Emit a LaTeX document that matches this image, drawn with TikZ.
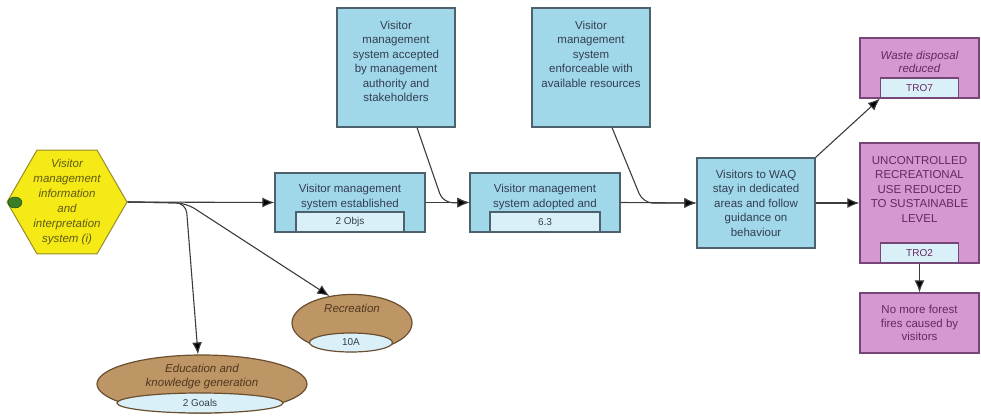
\documentclass[tikz,border=0pt]{standalone}
\usepackage{fontspec}
\setmainfont{Liberation Sans}
\usetikzlibrary{shapes.geometric,arrows.meta}

\definecolor{boxblue}{RGB}{160,216,234}
\definecolor{subblue}{RGB}{218,240,248}
\definecolor{edgeblue}{RGB}{78,98,110}
\definecolor{txtblue}{RGB}{50,62,80}
\definecolor{boxpink}{RGB}{214,152,208}
\definecolor{edgepink}{RGB}{118,70,118}
\definecolor{txtpink}{RGB}{100,40,100}
\definecolor{hexyellow}{RGB}{245,234,22}
\definecolor{edgeyellow}{RGB}{150,140,40}
\definecolor{txtyellow}{RGB}{95,90,20}
\definecolor{goalbrown}{RGB}{190,150,102}
\definecolor{edgebrown}{RGB}{105,78,48}
\definecolor{txtbrown}{RGB}{80,55,30}
\definecolor{dotgreen}{RGB}{60,125,40}
\definecolor{linkgray}{RGB}{60,60,60}

% empty depth below the last text line, pushes the text up
\newcommand{\textpad}[1]{\rule[-#1]{0pt}{#1}}

\begin{document}
\begin{tikzpicture}[x=1pt,y=-1pt,font=\fontsize{11.5}{14.5}\selectfont]
    \tikzstyle{box}=[draw=edgeblue,fill=boxblue,text=txtblue,line width=1.2pt,align=center,inner sep=1pt]
    \tikzstyle{pinkbox}=[draw=edgepink,fill=boxpink,text=txtpink,line width=1.2pt,align=center,inner sep=1pt]
    \tikzstyle{subbox}=[draw=edgeblue,fill=subblue,text=txtblue,line width=1.2pt,minimum height=20pt,inner sep=0pt,anchor=south,font=\fontsize{10}{12}\selectfont]
    \tikzstyle{subpink}=[subbox,draw=edgepink,text=txtpink]
    \tikzstyle{hexa}=[regular polygon,regular polygon sides=6,minimum size=120pt,inner sep=0pt,draw=edgeyellow,fill=hexyellow,line width=1pt]
    \tikzstyle{hextext}=[align=center,text=txtyellow,font=\fontsize{11.5}{15}\selectfont\itshape]
    \tikzstyle{goal}=[ellipse,draw=edgebrown,fill=goalbrown,line width=1.2pt,inner sep=0pt]
    \tikzstyle{subgoal}=[ellipse,draw=edgebrown,fill=subblue,text=txtblue,line width=1.2pt,inner sep=0pt,font=\fontsize{10}{12}\selectfont]
    \tikzstyle{goaltext}=[align=center,text=txtbrown,font=\fontsize{11.5}{13.5}\selectfont\itshape]
    \tikzstyle{link}=[-{Latex[length=12pt,width=10pt,fill=black]},draw=linkgray,line width=1.1pt]

    \useasboundingbox (0,0) rectangle (981,415);

    % factor
    \node[hexa] (vmis) at (67,202) {};
    \node[hextext] (vmistxt) at (vmis.center) {Visitor\\management\\information\\and\\interpretation\\system (i)};
    \node[ellipse,draw=black!70!green,fill=dotgreen,minimum width=14pt,minimum height=11pt,inner sep=0pt] (vmisdot) at (15,202.5) {};

    % strategy chain
    \node[box,minimum width=150pt,minimum height=59pt] (est) at (350,202.5) {Visitor management\\system established\textpad{13pt}};
    \node[subbox,minimum width=108pt] (estobj) at (est.south) {2 Objs};
    \node[box,minimum width=150pt,minimum height=59pt] (adopt) at (545,202.5) {Visitor management\\system adopted and\textpad{13pt}};
    \node[subbox,minimum width=110pt] (adoptobj) at (adopt.south) {6.3};
    \node[box,minimum width=118pt,minimum height=119pt] (acc) at (396,67.5) {Visitor\\management\\system accepted\\by management\\authority and\\stakeholders\textpad{12pt}};
    \node[box,minimum width=118pt,minimum height=119pt] (enf) at (591,67.5) {Visitor\\management\\system\\enforceable with\\available resources\textpad{27pt}};
    \node[box,minimum width=118pt,minimum height=90pt] (wrap) at (756,203) {Visitors to WAQ\\stay in dedicated\\areas and follow\\guidance on\\behaviour};

    % results
    \node[pinkbox,minimum width=119pt,minimum height=60pt,font=\fontsize{11.5}{13}\selectfont\itshape] (waste) at (919.5,68) {Waste disposal\\reduced\textpad{13pt}};
    \node[subpink,minimum width=78pt] (wastesub) at (waste.south) {TRO7};
    \node[pinkbox,minimum width=119pt,minimum height=120pt] (uncon) at (919.5,203) {UNCONTROLLED\\RECREATIONAL\\USE REDUCED\\TO SUSTAINABLE\\LEVEL\textpad{28pt}};
    \node[subpink,minimum width=78pt] (unconsub) at (uncon.south) {TRO2};
    \node[pinkbox,minimum width=119pt,minimum height=60pt,font=\fontsize{11.5}{13.3}\selectfont] (fires) at (919.5,323) {No more forest\\fires caused by\\visitors};

    % targets
    \node[goal,minimum width=120pt,minimum height=57pt] (rec) at (352,323) {};
    \node[subgoal,minimum width=83pt,minimum height=19pt] (recsub) at (351,342.5) {10A};
    \node[goaltext] (rectxt) at (352,308) {Recreation};
    \node[goal,minimum width=210pt,minimum height=58pt] (edu) at (202,384) {};
    \node[subgoal,minimum width=166pt,minimum height=20pt] (edusub) at (200,403) {2 Goals};
    \node[goaltext] (edutxt) at (202,376.5) {Education and\\knowledge generation};

    \coordinate (split) at (186,203);
    \draw[link] (vmis.east) -- (est.west);
    \draw[link,rounded corners=10pt] (vmis.east) -- (split) -- ([xshift=-4pt]edu.north);
    \draw[link,rounded corners=10pt] (vmis.east) -- (split) -- (rec.130);
    \draw[link] (est.east) -- (adopt.west);
    \draw[link,rounded corners=10pt] ([xshift=21pt]acc.south) -- (443,203) -- (adopt.west);
    \draw[link] (adopt.east) -- (wrap.west);
    \draw[link,rounded corners=10pt] ([xshift=21pt]enf.south) -- (643,203) -- (wrap.west);
    \draw[link] (wrap.north east) -- (wastesub.south west);
    \draw[link] (wrap.east) -- (uncon.west);
    \draw[link] (unconsub.south) -- (fires.north);
\end{tikzpicture}
\end{document}
